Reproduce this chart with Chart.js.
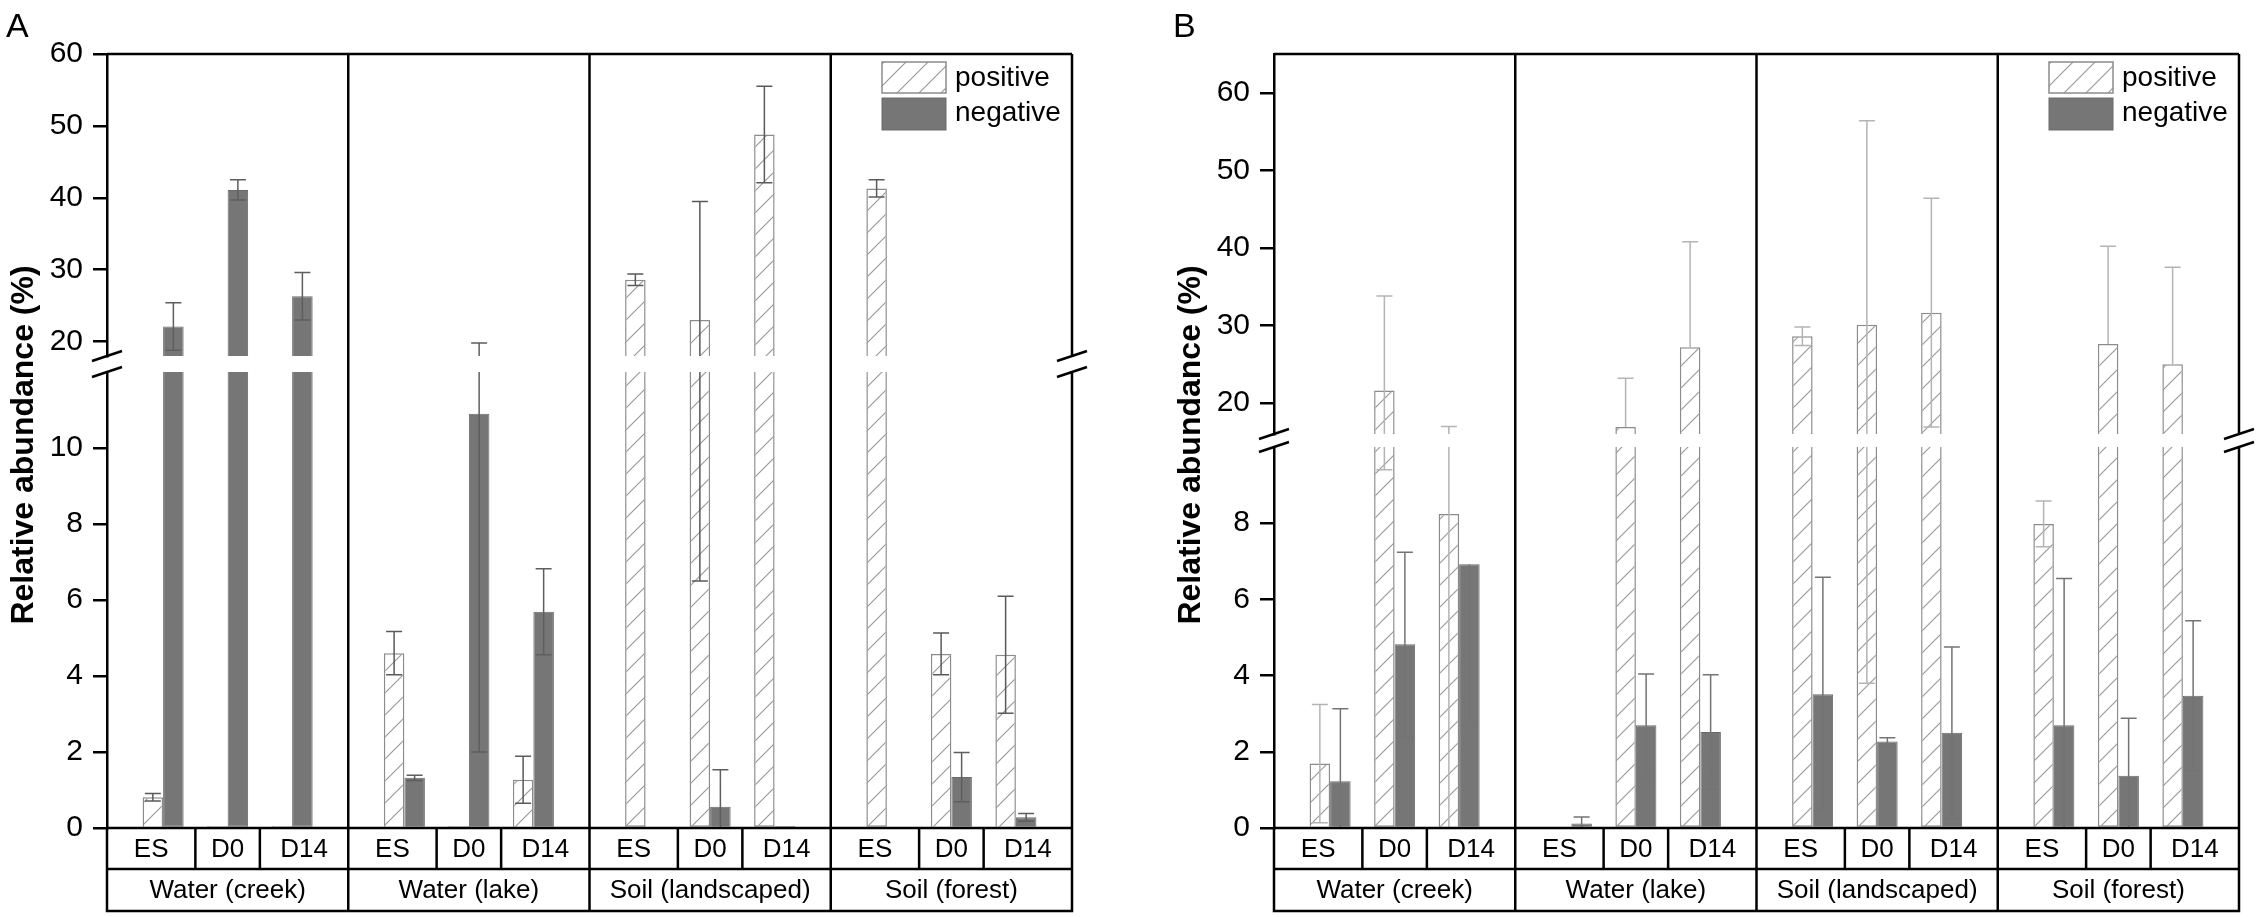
<!DOCTYPE html>
<html>
<head>
<meta charset="utf-8">
<script src="https://cdn.jsdelivr.net/npm/chart.js@4.4.1/dist/chart.umd.min.js"></script>
<style>
  html, body { margin: 0; padding: 0; background: #fff; }
  #wrap { position: relative; width: 2259px; height: 917px; }
  canvas { position: absolute; top: 0; }
  #chartA { left: 0; }
  #chartB { left: 1167px; }
</style>
</head>
<body>
<div id="wrap">
  <canvas id="chartA" width="1167" height="917"></canvas>
  <canvas id="chartB" width="1092" height="917"></canvas>
</div>
<script>
const groups = ['Water (creek)', 'Water (lake)', 'Soil (landscaped)', 'Soil (forest)'];
const days = ['ES', 'D0', 'D14'];
const seriesLabels = ['positive', 'negative'];

// panel A, order: group by group, ES / D0 / D14
const posA    = [0.81, 0.05, 0.05, 4.6, 0.05, 1.27, 28.6, 23.0, 48.8, 41.3, 4.58, 4.56];
const posErrA = [0.1, 0, 0, 0.57, 0, 0.62, 0.8, 16.5, 6.7, 1.2, 0.55, 1.54];
const negA    = [22.1, 41.1, 26.3, 1.32, 10.9, 5.69, 0, 0.56, 0.05, 0, 1.34, 0.28];
const negErrA = [3.3, 1.4, 3.3, 0.07, 8.9, 1.13, 0, 0.97, 0, 0, 0.65, 0.1];

// panel B
const posB    = [1.69, 21.6, 8.24, 0, 16.9, 27.2, 28.6, 30.1, 31.65, 7.98, 27.6, 25.0];
const posErrB = [1.55, 12.2, 8.74, 0, 6.3, 13.6, 1.2, 26.3, 14.75, 0.6, 12.6, 12.5];
const negB    = [1.23, 4.82, 6.92, 0.12, 2.7, 2.52, 3.51, 2.27, 2.5, 2.7, 1.37, 3.47];
const negErrB = [1.9, 2.42, 4.25, 0.17, 1.34, 1.5, 3.07, 0.1, 2.25, 3.85, 1.51, 1.97];

// broken y axis: lower and upper ranges and their tick labels
const rangeLowA = [0, 12];
const rangeHighA = [18, 60];
const ticksLowA = [0, 2, 4, 6, 8, 10];
const ticksHighA = [20, 30, 40, 50, 60];
const rangeLowB = [0, 10];
const rangeHighB = [16, 65];
const ticksLowB = [0, 2, 4, 6, 8];
const ticksHighB = [20, 30, 40, 50, 60];

const FONT = '"Liberation Sans", Arial, Helvetica, sans-serif';
Chart.defaults.font.family = FONT;
Chart.defaults.color = '#000';

// one day step = 1 unit; a group of three days spans GROUP_SPAN units
const GROUP_SPAN = 3.74;
const xOf = i => Math.floor(i / days.length) * GROUP_SPAN + (i % days.length);
const xMin = 1 - GROUP_SPAN / 2;
const xMax = (groups.length - 1) * GROUP_SPAN + 1 + GROUP_SPAN / 2;

function hatch() {
  const s = 22;
  const c = document.createElement('canvas');
  c.width = s; c.height = s;
  const g = c.getContext('2d');
  g.fillStyle = '#fff';
  g.fillRect(0, 0, s, s);
  g.strokeStyle = '#9a9a9a';
  g.lineWidth = 1.2;
  g.beginPath();
  g.moveTo(-2, s + 2); g.lineTo(s + 2, -2);
  g.moveTo(-2, 2); g.lineTo(2, -2);
  g.moveTo(s - 2, s + 2); g.lineTo(s + 2, s - 2);
  g.stroke();
  return g.createPattern(c, 'repeat');
}
const hatchFill = hatch();
const negFill = '#767676';

function buildDatasets(pos, neg, low, high) {
  const lowPart = vals => vals.map((v, i) => ({ x: xOf(i), y: Math.min(v, low[1]), cut: v > low[1] }));
  const highPart = vals => vals.map((v, i) => ({ x: xOf(i), y: v > high[0] ? v : null }));
  const posStyle = { backgroundColor: hatchFill, borderColor: '#8c8c8c', borderWidth: 1.5, stack: 'pos' };
  const negStyle = { backgroundColor: negFill, borderColor: '#6a6a6a', borderWidth: 1, stack: 'neg' };
  const skipLow = c => (c.raw && c.raw.cut ? 'end' : 'start');
  return [
    { label: seriesLabels[0], yAxisID: 'yLow', data: lowPart(pos), borderSkipped: skipLow, ...posStyle },
    { label: seriesLabels[0], yAxisID: 'yHigh', data: highPart(pos), ...posStyle },
    { label: seriesLabels[1], yAxisID: 'yLow', data: lowPart(neg), borderSkipped: skipLow, ...negStyle },
    { label: seriesLabels[1], yAxisID: 'yHigh', data: highPart(neg), ...negStyle }
  ];
}

function yAxis(range, ticks, weight) {
  return {
    type: 'linear', position: 'left', stack: 'v', stackWeight: weight,
    min: range[0], max: range[1],
    afterBuildTicks: ax => { ax.ticks = ticks.map(v => ({ value: v })); },
    afterFit: ax => { ax.width = 107; },
    ticks: { font: { size: 30 }, padding: 10, color: '#000', autoSkip: false },
    grid: { drawOnChartArea: false, drawTicks: true, tickLength: 14, color: '#000', lineWidth: 2.5 },
    border: { display: true, color: '#000', width: 2.5 }
  };
}

const panelPlugin = {
  id: 'panel',
  afterDatasetsDraw(chart, args, opts) {
    const { ctx, chartArea: ca, scales } = chart;
    const low = scales.yLow, high = scales.yHigh, xs = scales.x;
    const px = v => xs.getPixelForValue(v);
    const visPix = v => {
      if (v >= low.min && v <= low.max) return low.getPixelForValue(v);
      if (v >= high.min && v <= high.max) return high.getPixelForValue(v);
      return null;
    };
    const vLine = (x, a, b) => {
      [low, high].forEach(s => {
        const lo = Math.max(a, s.min), hi = Math.min(b, s.max);
        if (hi > lo) {
          ctx.moveTo(x, s.getPixelForValue(lo));
          ctx.lineTo(x, s.getPixelForValue(hi));
        }
      });
    };
    const cap = (x, y) => { ctx.moveTo(x - 8, y); ctx.lineTo(x + 8, y); };

    // error bars (mean +/- sd), whiskers ending inside the break are left out
    [[0, opts.posVals, opts.posErr, opts.posErrColor], [2, opts.negVals, opts.negErr, opts.negErrColor]].forEach(([di, vals, errs, color]) => {
      const meta = chart.getDatasetMeta(di);
      ctx.save();
      ctx.strokeStyle = color;
      ctx.lineWidth = 1.5;
      ctx.beginPath();
      vals.forEach((v, i) => {
        const e = errs[i];
        if (!e || !v) return;
        const x = meta.data[i].x;
        const top = v + e;
        const yt = visPix(top);
        if (yt !== null) { vLine(x, v, top); cap(x, yt); }
        const bot = v - e;
        if (bot <= low.min) {
          vLine(x, low.min, v);
        } else {
          const yb = visPix(bot);
          if (yb !== null) { vLine(x, bot, v); cap(x, yb); }
        }
      });
      ctx.stroke();
      ctx.restore();
    });

    const row1 = ca.bottom + 41;
    const tableBottom = ca.bottom + 83;
    const gapTop = high.bottom, gapBottom = low.top;

    ctx.save();
    ctx.strokeStyle = '#000';
    ctx.lineWidth = 2.5;
    ctx.beginPath();
    // frame
    ctx.moveTo(ca.left, ca.top); ctx.lineTo(ca.right, ca.top);
    ctx.moveTo(ca.right, ca.top); ctx.lineTo(ca.right, gapTop);
    ctx.moveTo(ca.right, gapBottom); ctx.lineTo(ca.right, tableBottom);
    ctx.moveTo(ca.left, ca.bottom); ctx.lineTo(ca.right, ca.bottom);
    ctx.moveTo(ca.left, ca.bottom); ctx.lineTo(ca.left, tableBottom);
    ctx.moveTo(ca.left, row1); ctx.lineTo(ca.right, row1);
    ctx.moveTo(ca.left - 1.25, tableBottom); ctx.lineTo(ca.right + 1.25, tableBottom);
    // group and day dividers
    for (let g = 1; g < groups.length; g++) {
      const x = px(g * GROUP_SPAN + 1 - GROUP_SPAN / 2);
      ctx.moveTo(x, ca.top); ctx.lineTo(x, tableBottom);
    }
    for (let g = 0; g < groups.length; g++) {
      for (let d = 0; d < days.length - 1; d++) {
        const x = px(g * GROUP_SPAN + d + 0.5);
        ctx.moveTo(x, ca.bottom); ctx.lineTo(x, row1);
      }
    }
    // axis break marks
    [ca.left, ca.right].forEach(x => {
      [gapTop, gapBottom].forEach(y => {
        ctx.moveTo(x - 15, y + 5); ctx.lineTo(x + 15, y - 5);
      });
    });
    ctx.stroke();

    // table labels
    ctx.fillStyle = '#000';
    ctx.font = '26px ' + FONT;
    ctx.textAlign = 'center';
    ctx.textBaseline = 'middle';
    groups.forEach((name, g) => {
      const edges = [px(g * GROUP_SPAN + 1 - GROUP_SPAN / 2)];
      for (let d = 0; d < days.length - 1; d++) edges.push(px(g * GROUP_SPAN + d + 0.5));
      edges.push(px(g * GROUP_SPAN + 1 + GROUP_SPAN / 2));
      days.forEach((day, d) => ctx.fillText(day, (edges[d] + edges[d + 1]) / 2, (ca.bottom + row1) / 2 + 1));
      ctx.fillText(name, (edges[0] + edges[edges.length - 1]) / 2, (row1 + tableBottom) / 2 + 1);
    });

    // legend
    const lx = ca.right - 190;
    ctx.fillStyle = hatchFill;
    ctx.fillRect(lx, ca.top + 8, 64, 31);
    ctx.strokeStyle = '#8c8c8c';
    ctx.lineWidth = 1.5;
    ctx.strokeRect(lx, ca.top + 8, 64, 31);
    ctx.fillStyle = negFill;
    ctx.fillRect(lx, ca.top + 44, 64, 32);
    ctx.strokeStyle = '#6a6a6a';
    ctx.lineWidth = 1;
    ctx.strokeRect(lx, ca.top + 44, 64, 32);
    ctx.fillStyle = '#000';
    ctx.font = '28px ' + FONT;
    ctx.textAlign = 'left';
    ctx.fillText(seriesLabels[0], lx + 73, ca.top + 24);
    ctx.fillText(seriesLabels[1], lx + 73, ca.top + 59);

    // axis title and panel letter
    ctx.save();
    ctx.translate(24, (ca.top + ca.bottom) / 2 + 4);
    ctx.rotate(-Math.PI / 2);
    ctx.font = 'bold 32px ' + FONT;
    ctx.textAlign = 'center';
    ctx.fillText('Relative abundance (%)', 0, 0);
    ctx.restore();
    ctx.font = '34px ' + FONT;
    ctx.textAlign = 'left';
    ctx.textBaseline = 'alphabetic';
    ctx.fillText(opts.letter, 6, 37);
    ctx.restore();
  }
};

function makeChart(id, letter, pos, posErr, neg, negErr, low, high, ticksLow, ticksHigh, weights, padRight, errColors) {
  return new Chart(document.getElementById(id), {
    type: 'bar',
    data: { datasets: buildDatasets(pos, neg, low, high) },
    options: {
      responsive: false,
      animation: false,
      events: [],
      categoryPercentage: 0.636,
      barPercentage: 1,
      layout: { padding: { top: 54, bottom: 89, left: 0, right: padRight } },
      plugins: {
        legend: { display: false },
        tooltip: { enabled: false },
        panel: {
          letter, posVals: pos, posErr, negVals: neg, negErr,
          posErrColor: errColors[0], negErrColor: errColors[1]
        }
      },
      scales: {
        x: {
          type: 'linear', display: false, offset: false, min: xMin, max: xMax,
          grid: { offset: false },
          afterBuildTicks: ax => { ax.ticks = pos.map((v, i) => ({ value: xOf(i) })); }
        },
        yLow: yAxis(low, ticksLow, weights[2]),
        yGap: {
          type: 'linear', position: 'left', stack: 'v', stackWeight: weights[1], min: 0, max: 1,
          afterFit: ax => { ax.width = 107; },
          ticks: { display: false }, grid: { display: false }, border: { display: false }
        },
        yHigh: yAxis(high, ticksHigh, weights[0])
      }
    },
    plugins: [panelPlugin]
  });
}

makeChart('chartA', 'A', posA, posErrA, negA, negErrA, rangeLowA, rangeHighA, ticksLowA, ticksHighA,
  [302, 16, 456], 95, ['#5a5a5a', '#5e5e5e']);
makeChart('chartB', 'B', posB, posErrB, negB, negErrB, rangeLowB, rangeHighB, ticksLowB, ticksHighB,
  [380, 13, 381], 20, ['#b4b4b4', '#747474']);
</script>
</body>
</html>
